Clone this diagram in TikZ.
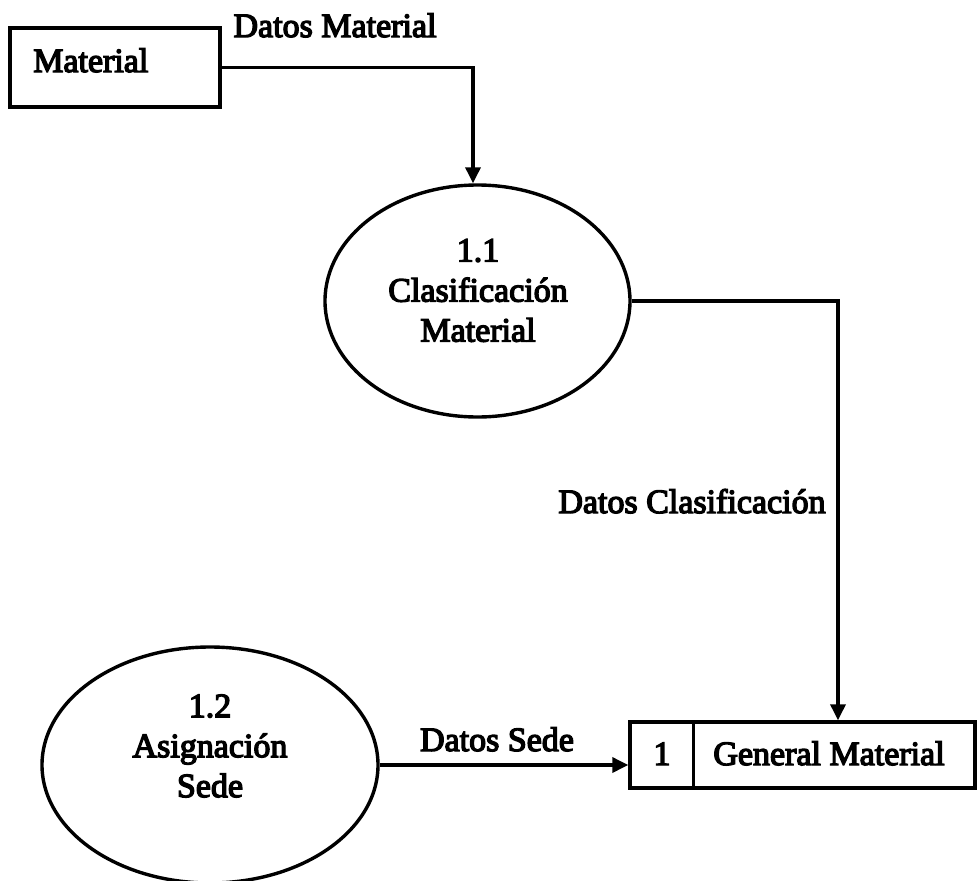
\documentclass[tikz,border=0pt]{standalone}
\usepackage{fontspec}
\newfontfamily\dfdfont{Liberation Serif}[FakeBold=4]
\usetikzlibrary{shapes.geometric,arrows.meta}

\begin{document}
\begin{tikzpicture}[x=1pt,y=-1pt,
  every node/.style={font=\dfdfont\fontsize{34}{40}\selectfont},
  line/.style={line width=3.4pt},
  flow/.style={line, -{Triangle[length=16pt,width=15pt]}},
  entity/.style={draw, line width=3.4pt, rectangle, inner sep=0pt},
  process/.style={draw, line width=3.4pt, ellipse, inner sep=0pt},
  datastore/.style={draw, line width=3.4pt, rectangle, inner sep=0pt},
  txt/.style={align=center, inner sep=0pt}]

\useasboundingbox (0,0) rectangle (978,881);
\fill[white] (0,0) rectangle (978,881);

% external entity
\node[entity, minimum width=210pt, minimum height=79pt] (mat) at (115,67.5) {};
\node[txt, anchor=base west] (matname) at (33,72) {Material};

% processes
\node[process, minimum width=305pt, minimum height=232pt] (p11) at (477.5,301) {};
\node[txt] (p11name) at (478,290.5) {1.1\\Clasificación\\Material};

\node[process, minimum width=336pt, minimum height=236pt] (p12) at (210,765) {};
\node[txt] (p12name) at (210,746) {1.2\\Asignación\\Sede};

% data store
\node[datastore, minimum width=345pt, minimum height=66pt] (store) at (802.5,755) {};
\draw[line] ([xshift=65pt]store.north west) -- ([xshift=65pt]store.south west);
\node[txt, anchor=base] (storeid) at (662,765) {1};
\node[txt, anchor=base] (storename) at (829,765) {General Material};

% data flows
\draw[flow] (mat.east) -| ([xshift=-4.5pt]p11.north);
\draw[flow] (p11.east) -| ([xshift=35.5pt]store.north);
\draw[flow] (p12.east) -- (p12.east -| store.west);

% flow labels
\node[txt, anchor=base] (lblmat) at (335,37) {Datos Material};
\node[txt, anchor=base] (lblclas) at (692,513) {Datos Clasificación};
\node[txt, anchor=base] (lblsede) at (497,751) {Datos Sede};
\end{tikzpicture}
\end{document}
